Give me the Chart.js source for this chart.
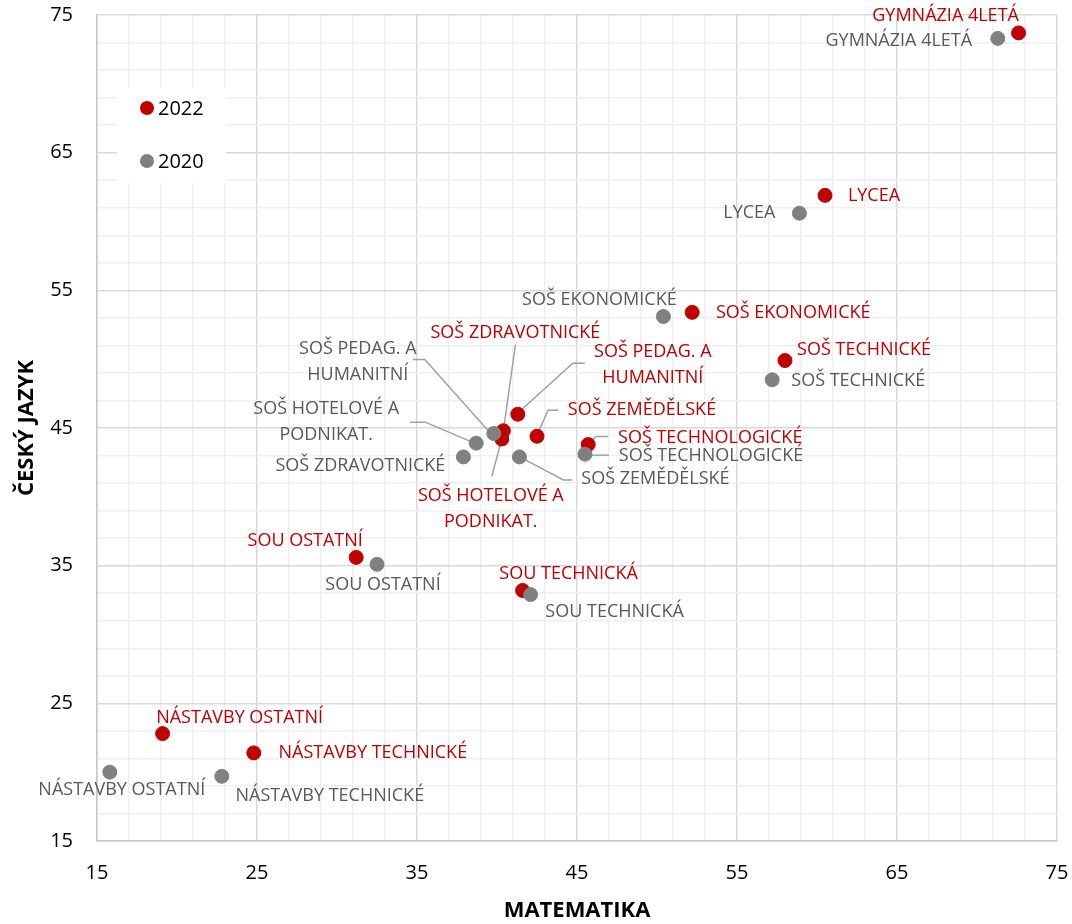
<!DOCTYPE html>
<html>
<head>
<meta charset="utf-8">
<script src="https://cdn.jsdelivr.net/npm/chart.js@4.4.1/dist/chart.umd.min.js"></script>
<style>
  html, body { margin: 0; padding: 0; background: #fff; }
  #wrap { width: 1072px; height: 924px; }
</style>
</head>
<body>
<div id="wrap"><canvas id="myChart"></canvas></div>
<script>
const schools = [
    "GYMNÁZIA 4LETÁ", "LYCEA", "SOŠ EKONOMICKÉ", "SOŠ TECHNICKÉ",
    "SOŠ PEDAG. A\nHUMANITNÍ", "SOŠ HOTELOVÉ A\nPODNIKAT.", "SOŠ ZDRAVOTNICKÉ",
    "SOŠ ZEMĚDĚLSKÉ", "SOŠ TECHNOLOGICKÉ", "SOU OSTATNÍ", "SOU TECHNICKÁ",
    "NÁSTAVBY OSTATNÍ", "NÁSTAVBY TECHNICKÉ"
];
const math2022 = [72.6, 60.5, 52.2, 58.0, 41.3, 40.3, 40.4, 42.5, 45.7, 31.2, 41.6, 19.1, 24.8];
const czech2022 = [73.7, 61.9, 53.4, 49.9, 46.0, 44.2, 44.8, 44.4, 43.8, 35.6, 33.2, 22.8, 21.4];
const math2020 = [71.3, 58.9, 50.4, 57.2, 39.8, 38.7, 37.9, 41.4, 45.5, 32.5, 42.1, 15.8, 22.8];
const czech2020 = [73.3, 60.6, 53.1, 48.5, 44.6, 43.9, 42.9, 42.9, 43.1, 35.1, 32.9, 20.0, 19.7];
const axisLabels = [15, 25, 35, 45, 55, 65, 75];

const RED = "#c00000";
const GREY = "#808080";

// where each name sits relative to its dot (px), plus optional leader line
const place2022 = [
    {dx: -73, dy: -17}, {dx: 49, dy: 1}, {dx: 101, dy: 1}, {dx: 79, dy: -11},
    {dx: 135, dy: -49, lead: [[67, -51], [55, -51], [3, -4]]},
    {dx: -11, dy: 70, lead: [[-10, 37], [0, 0]]},
    {dx: 12, dy: -98, lead: [[12, -86], [0, 0]]},
    {dx: 105, dy: -26, lead: [[21, -26], [11, -26], [1, -3]]},
    {dx: 122, dy: -7, lead: [[20, -8], [8, -8], [1, -2]]},
    {dx: -51, dy: -17}, {dx: 46, dy: -17}, {dx: 77, dy: -16}, {dx: 119, dy: 0}
];
const place2020 = [
    {dx: -99, dy: 2}, {dx: -50, dy: 0}, {dx: -64, dy: -17}, {dx: 86, dy: 1},
    {dx: -136, dy: -72, lead: [[-81, -74], [-69, -74], [-4, -1]]},
    {dx: -150, dy: -21, lead: [[-66, -21], [-51, -21], [-4, -1]]},
    {dx: -103, dy: 9},
    {dx: 136, dy: 22, lead: [[53, 23], [44, 23], [4, 2]]},
    {dx: 126, dy: 2, lead: [[24, 1], [3, 1]]},
    {dx: 6, dy: 21}, {dx: 84, dy: 17}, {dx: 12, dy: 18}, {dx: 108, dy: 20}
];

function toPoints(xs, ys) {
    return xs.map(function (x, i) { return {x: x, y: ys[i]}; });
}

const pointLabels = {
    id: "pointLabels",
    beforeDatasetsDraw(chart) {
        const ctx = chart.ctx;
        ctx.save();
        ctx.strokeStyle = "#a0a0a0";
        ctx.lineWidth = 1.5;
        chart.data.datasets.forEach(function (ds, i) {
            const meta = chart.getDatasetMeta(i);
            ds.places.forEach(function (p, j) {
                if (!p.lead) return;
                const pt = meta.data[j];
                ctx.beginPath();
                p.lead.forEach(function (q, k) {
                    if (k === 0) ctx.moveTo(pt.x + q[0], pt.y + q[1]);
                    else ctx.lineTo(pt.x + q[0], pt.y + q[1]);
                });
                ctx.stroke();
            });
        });
        ctx.restore();
    },
    afterDatasetsDraw(chart) {
        const ctx = chart.ctx;
        ctx.save();
        ctx.font = "18px 'Open Sans'";
        ctx.textAlign = "center";
        ctx.textBaseline = "middle";
        chart.data.datasets.forEach(function (ds, i) {
            const meta = chart.getDatasetMeta(i);
            ctx.fillStyle = ds.textColor;
            ds.places.forEach(function (p, j) {
                const pt = meta.data[j];
                const lines = schools[j].split("\n");
                const lh = 26;
                lines.forEach(function (line, k) {
                    const y = pt.y + p.dy + (k - (lines.length - 1) / 2) * lh;
                    ctx.fillText(line, pt.x + p.dx, y);
                });
            });
        });
        ctx.restore();
    }
};

// legend box sitting inside the plot, top left
const innerLegend = {
    id: "innerLegend",
    afterDatasetsDraw(chart) {
        const ctx = chart.ctx;
        const items = [chart.data.datasets[1], chart.data.datasets[0]];
        ctx.save();
        ctx.fillStyle = "#ffffff";
        ctx.fillRect(117, 87, 109, 96);
        ctx.font = "20px 'Open Sans'";
        ctx.textBaseline = "middle";
        items.forEach(function (ds, k) {
            const y = 108 + k * 53;
            ctx.fillStyle = ds.backgroundColor;
            ctx.beginPath();
            ctx.arc(147, y, 7, 0, Math.PI * 2);
            ctx.fill();
            ctx.fillStyle = "#000000";
            ctx.fillText(ds.label, 158, y + 1);
        });
        ctx.restore();
    }
};

function gridColor(c) {
    const v = c.tick ? c.tick.value : 0;
    return axisLabels.includes(v) ? "#d9d9d9" : "#efefef";
}

function tickText(v) {
    return axisLabels.includes(v) ? String(v) : "";
}

// drop the extra room chart.js keeps for the end tick labels
function noEdgePad(s) {
    s.paddingTop = 0;
    s.paddingBottom = 0;
    s.paddingLeft = 0;
    s.paddingRight = 0;
}

const ctx = document.getElementById("myChart").getContext("2d");
const chart = new Chart(ctx, {
    type: "scatter",
    data: {
        datasets: [
            {
                label: "2020",
                data: toPoints(math2020, czech2020),
                backgroundColor: GREY,
                borderColor: GREY,
                pointRadius: 7,
                pointHoverRadius: 7,
                textColor: "#595959",
                places: place2020,
                order: 0
            },
            {
                label: "2022",
                data: toPoints(math2022, czech2022),
                backgroundColor: RED,
                borderColor: RED,
                pointRadius: 7,
                pointHoverRadius: 7,
                textColor: RED,
                places: place2022,
                order: 1
            }
        ]
    },
    options: {
        responsive: true,
        maintainAspectRatio: false,
        animation: false,
        layout: {padding: {top: 15, right: 15, left: 0, bottom: 0}},
        plugins: {
            legend: {display: false},
            tooltip: {enabled: false}
        },
        scales: {
            x: {
                type: "linear",
                min: 15,
                max: 75,
                afterFit: function (s) { s.height = 83; noEdgePad(s); },
                ticks: {
                    stepSize: 2,
                    autoSkip: false,
                    maxRotation: 0,
                    padding: 20,
                    color: "#000000",
                    font: {family: "Open Sans", size: 20},
                    callback: tickText
                },
                grid: {color: gridColor, drawTicks: false, lineWidth: 1.5},
                border: {color: "#c8c8c8", width: 1.5},
                title: {
                    display: true,
                    text: "MATEMATIKA",
                    color: "#000000",
                    font: {family: "Open Sans", size: 22, weight: "bold"},
                    padding: {top: 0, bottom: 0}
                }
            },
            y: {
                type: "linear",
                min: 15,
                max: 75,
                afterFit: function (s) { s.width = 97; noEdgePad(s); },
                ticks: {
                    stepSize: 2,
                    autoSkip: false,
                    padding: 24,
                    color: "#000000",
                    font: {family: "Open Sans", size: 20},
                    callback: tickText
                },
                grid: {color: gridColor, drawTicks: false, lineWidth: 1.5},
                border: {color: "#c8c8c8", width: 1.5},
                title: {
                    display: true,
                    text: "ČESKÝ JAZYK",
                    color: "#000000",
                    font: {family: "Open Sans", size: 22, weight: "bold"},
                    padding: {top: 14, bottom: 0}
                }
            }
        }
    },
    plugins: [pointLabels, innerLegend]
});
</script>
</body>
</html>
